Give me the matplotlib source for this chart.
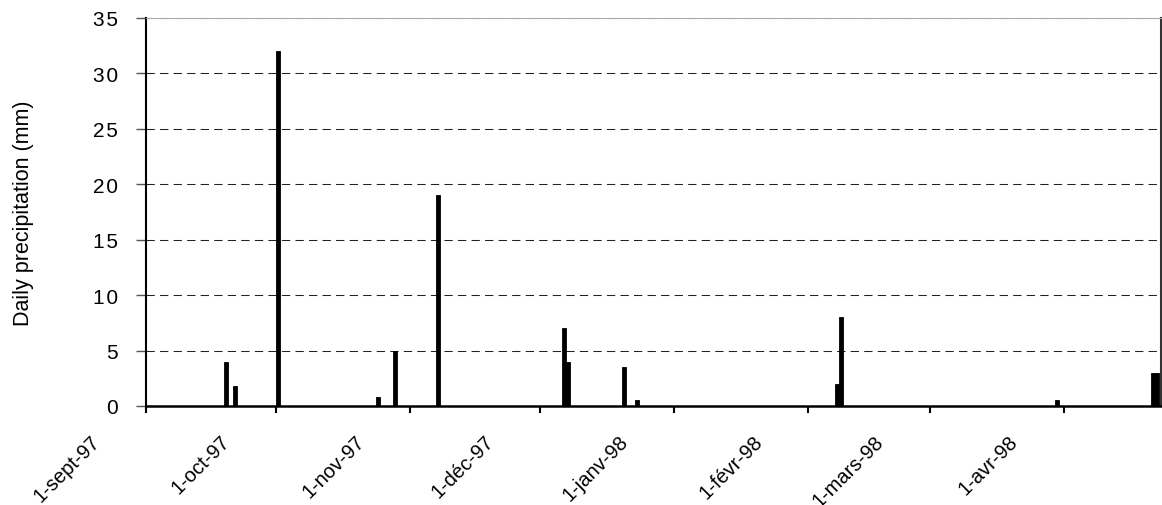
import matplotlib.pyplot as plt
import matplotlib.transforms as mtransforms
import numpy as np

plt.rcParams['font.family'] = ['Liberation Sans', 'DejaVu Sans']

# daily rainfall records, Sept 1997 - Apr 1998
rain_days = [
    '1997-09-19', '1997-09-21', '1997-10-01', '1997-10-24', '1997-10-28',
    '1997-11-07', '1997-12-06', '1997-12-07', '1997-12-20', '1997-12-23',
    '1998-02-07', '1998-02-08', '1998-03-30', '1998-04-21', '1998-04-22',
]
rain_mm = [4, 1.8, 32, 0.8, 5, 19, 7, 4, 3.5, 0.5, 2, 8, 0.5, 3, 3]

tick_dates = ['1997-09-01', '1997-10-01', '1997-11-01', '1997-12-01',
              '1998-01-01', '1998-02-01', '1998-03-01', '1998-04-01']
tick_labels = ['1-sept-97', '1-oct-97', '1-nov-97', '1-déc-97',
               '1-janv-98', '1-févr-98', '1-mars-98', '1-avr-98']

y_ticks = np.arange(0, 36, 5)

days = np.array(rain_days, dtype='datetime64[D]')
# each day drawn in the middle of its slot
centers = days.astype('datetime64[h]') + np.timedelta64(12, 'h')

fig = plt.figure(figsize=(11.62, 5.06), dpi=100)
ax = fig.add_axes([0.1256, 0.1957, 0.8735, 0.7668])

ax.bar(centers, rain_mm, width=0.9, color='black', edgecolor='black',
       linewidth=0.6, zorder=3)

ax.set_xlim(np.datetime64('1997-09-01T00'), np.datetime64('1998-04-23T10'))
ax.set_ylim(0, 35)
ax.set_yticks(y_ticks)
# spread digits a little, like the old spreadsheet export
ax.set_yticklabels(['\u200a'.join(str(v)) for v in y_ticks])
ax.set_xticks(np.array(tick_dates, dtype='datetime64[D]'))
ax.set_xticklabels(tick_labels, rotation=45, rotation_mode='anchor',
                   ha='right', va='baseline')

ax.yaxis.grid(True, color='#222222', linestyle=(0, (8, 5)), linewidth=0.75)
ax.set_axisbelow(True)

ax.spines['top'].set_color('#aaaaaa')
ax.spines['top'].set_linewidth(0.8)
ax.spines['right'].set_color('#333333')
ax.spines['right'].set_linewidth(1.5)
ax.spines['left'].set_linewidth(1.5)
ax.spines['bottom'].set_linewidth(1.8)

ax.tick_params(axis='y', length=7, width=1, color='#555555', labelsize=15, pad=13)
ax.tick_params(axis='x', length=5, width=1.5, labelsize=14.5)

# labels end to the lower left of their tick
shift = mtransforms.ScaledTranslation(-0.45, -0.24, fig.dpi_scale_trans)
for lbl in ax.get_xticklabels():
    lbl.set_transform(lbl.get_transform() + shift)

ax.set_ylabel('Daily precipitation (mm)', fontsize=15.5)
ax.yaxis.set_label_coords(-0.110, 0.5)

fig.savefig('out.png', dpi=100)
